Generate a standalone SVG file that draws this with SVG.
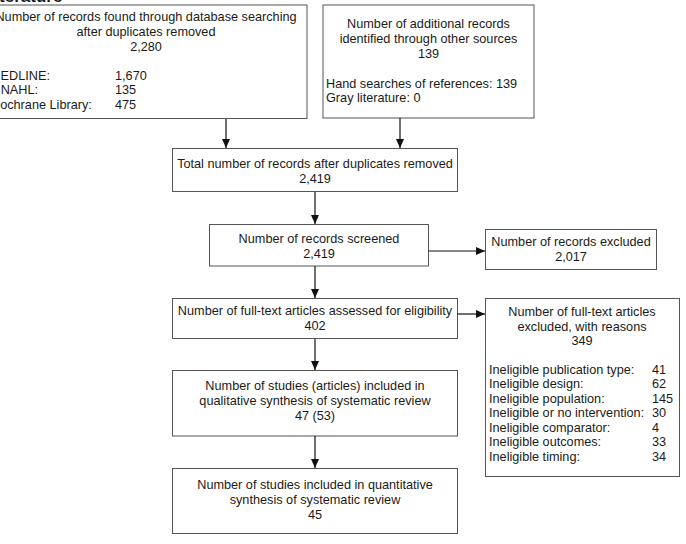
<svg xmlns="http://www.w3.org/2000/svg" width="686" height="544" viewBox="0 0 686 544">
<defs>
<marker id="ah" markerWidth="10" markerHeight="10" refX="9" refY="5" orient="auto" markerUnits="userSpaceOnUse">
<path d="M0,1 L9,5 L0,9 Z" fill="#111"/>
</marker>
<style>
rect{fill:#fff;stroke:#555;stroke-width:1}
text{font-family:"Liberation Sans",Arial,sans-serif;font-size:12.7px;fill:#1a1a1a}
.c{text-anchor:middle}
.title{font-weight:bold;font-size:17px}
#connectors line{stroke:#111;stroke-width:1.2;marker-end:url(#ah)}
</style>
</defs>
<rect x="0" y="0" width="686" height="544" style="stroke:none"/>
<text class="title" x="-16" y="2">Literature</text>

<g id="n_database">
<rect x="-15" y="5" width="322" height="113.5"/>
<text class="c" x="146" y="21">Number of records found through database searching</text>
<text class="c" x="146" y="36">after duplicates removed</text>
<text class="c" x="146" y="51">2,280</text>
<text x="-10" y="80">MEDLINE:</text><text x="115" y="80">1,670</text>
<text x="-12" y="94">CINAHL:</text><text x="115" y="94">135</text>
<text x="-9" y="109">Cochrane Library:</text><text x="115" y="109">475</text>
</g>

<g id="n_other">
<rect x="323" y="5" width="211" height="113"/>
<text class="c" x="428.5" y="28">Number of additional records</text>
<text class="c" x="428.5" y="43">identified through other sources</text>
<text class="c" x="428.5" y="58">139</text>
<text x="326" y="88">Hand searches of references: 139</text>
<text x="326" y="102">Gray literature: 0</text>
</g>

<g id="n_total">
<rect x="172.5" y="148.5" width="285" height="43"/>
<text class="c" x="315" y="168">Total number of records after duplicates removed</text>
<text class="c" x="315" y="183">2,419</text>
</g>

<g id="n_screened">
<rect x="209.5" y="224.5" width="219" height="41.5"/>
<text class="c" x="319" y="243">Number of records screened</text>
<text class="c" x="319" y="258">2,419</text>
</g>

<g id="n_excluded">
<rect x="485.5" y="229.5" width="171" height="40"/>
<text class="c" x="571" y="246">Number of records excluded</text>
<text class="c" x="571" y="261">2,017</text>
</g>

<g id="n_fulltext">
<rect x="172.5" y="298.5" width="285" height="40"/>
<text class="c" x="315" y="315">Number of full-text articles assessed for eligibility</text>
<text class="c" x="315" y="330">402</text>
</g>

<g id="n_fulltext_excluded">
<rect x="485.5" y="298.5" width="194" height="178"/>
<text class="c" x="582" y="316">Number of full-text articles</text>
<text class="c" x="582" y="331">excluded, with reasons</text>
<text class="c" x="582" y="345">349</text>
<text x="489" y="374">Ineligible publication type:</text><text x="652" y="374">41</text>
<text x="489" y="388">Ineligible design:</text><text x="652" y="388">62</text>
<text x="489" y="403">Ineligible population:</text><text x="652" y="403">145</text>
<text x="489" y="417">Ineligible or no intervention:</text><text x="652" y="417">30</text>
<text x="489" y="432">Ineligible comparator:</text><text x="652" y="432">4</text>
<text x="489" y="446">Ineligible outcomes:</text><text x="652" y="446">33</text>
<text x="489" y="461">Ineligible timing:</text><text x="652" y="461">34</text>
</g>

<g id="n_qualitative">
<rect x="172.5" y="370.5" width="285" height="65.5"/>
<text class="c" x="315" y="390">Number of studies (articles) included in</text>
<text class="c" x="315" y="405">qualitative synthesis of systematic review</text>
<text class="c" x="315" y="420">47 (53)</text>
</g>

<g id="n_quantitative">
<rect x="172.5" y="468.5" width="285" height="65"/>
<text class="c" x="315" y="489">Number of studies included in quantitative</text>
<text class="c" x="315" y="504">synthesis of systematic review</text>
<text class="c" x="315" y="519">45</text>
</g>

<g id="connectors">
<line x1="226" y1="119" x2="226" y2="148"/>
<line x1="400" y1="118" x2="400" y2="148"/>
<line x1="315" y1="192" x2="315" y2="224"/>
<line x1="428.5" y1="251" x2="485" y2="251"/>
<line x1="315" y1="266" x2="315" y2="298"/>
<line x1="457.5" y1="314" x2="485" y2="314"/>
<line x1="315" y1="339" x2="315" y2="370"/>
<line x1="315" y1="436" x2="315" y2="468"/>
</g>
</svg>
